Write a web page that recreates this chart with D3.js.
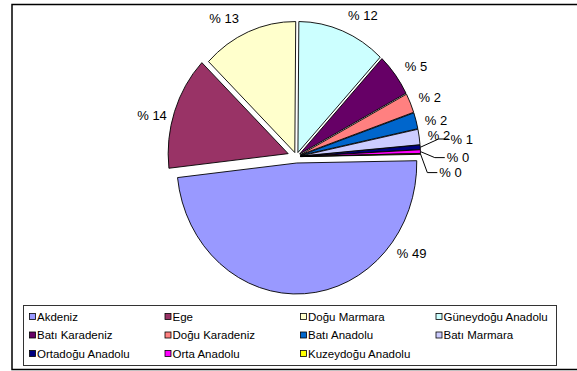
<!DOCTYPE html>
<html>
<head>
<meta charset="utf-8">
<script src="https://cdn.jsdelivr.net/npm/d3@7"></script>
<style>
  html, body { margin: 0; padding: 0; background: #fff; }
  svg { display: block; font-family: "Liberation Sans", Arial, sans-serif; }
</style>
</head>
<body>
<svg id="chart" width="577" height="371"></svg>
<script>
// Regions and their shares (%)
const regions = [
  "Akdeniz", "Ege", "Doğu Marmara", "Güneydoğu Anadolu",
  "Batı Karadeniz", "Doğu Karadeniz", "Batı Anadolu", "Batı Marmara",
  "Ortadoğu Anadolu", "Orta Anadolu", "Kuzeydoğu Anadolu"
];
const shares = [48.5, 14.0, 12.9, 11.9, 5.3, 2.4, 2.0, 1.9, 0.55, 0.45, 0.1];
const colors = [
  "#9999FF", "#993366", "#FFFFCC", "#CCFFFF",
  "#660066", "#FF8080", "#0066CC", "#CCCCFF",
  "#000080", "#FF00FF", "#FFFF00"
];

// Pie layout settings
const cx = 296.4, cy = 156.7;      // pie centre
const R = 131;                       // radius (vertical)
const sx = 0.916;                    // horizontal squash of the pie
const startDeg = 89;                 // first slice angle
const explodeDefault = 4.5;
const explode = { "Akdeniz": 6.3, "Ege": 9.5 };
// where each percentage label sits (angle in degrees clockwise from top, distance from centre)
const labelPlace = {
  "Akdeniz": { angle: 127.7, dist: 159 },
  "Ege": { angle: 284.5, dist: 162.8 },
  "Doğu Marmara": { angle: 330.2, dist: 158.7 },
  "Güneydoğu Anadolu": { angle: 27.3, dist: 158.4 },
  "Batı Karadeniz": { angle: 55.5, dist: 158.4 },
  "Doğu Karadeniz": { angle: 68, dist: 157 },
  "Batı Anadolu": { angle: 76.5, dist: 156.8 },
  "Batı Marmara": { angle: 82.4, dist: 157.1 },
  "Ortadoğu Anadolu": { angle: 84.4, dist: 181.4, leader: true },
  "Orta Anadolu": { angle: 90.3, dist: 176.4, leader: true },
  "Kuzeydoğu Anadolu": { angle: 95.4, dist: 169, leader: true }
};

const svg = d3.select("#chart");

// outer frame
svg.append("rect")
  .attr("x", 12).attr("y", 4.5)
  .attr("width", 580).attr("height", 365)
  .attr("fill", "none").attr("stroke", "#000").attr("stroke-width", 1.5);

const data = regions.map((name, i) => ({ name, value: shares[i], color: colors[i] }));

const pie = d3.pie()
  .value(d => d.value)
  .sort(null)
  .startAngle(startDeg * Math.PI / 180)
  .endAngle((startDeg + 360) * Math.PI / 180);

const arcs = pie(data);
const arc = d3.arc().innerRadius(0).outerRadius(R);

// convert a true-circle polar point to screen coordinates
function polar(angleRad, r) {
  return [Math.sin(angleRad) * r * sx, -Math.cos(angleRad) * r];
}

const g = svg.append("g").attr("transform", `translate(${cx},${cy})`);

arcs.forEach(a => {
  const mid = (a.startAngle + a.endAngle) / 2;
  const e = explode[a.data.name] ?? explodeDefault;
  const [ox, oy] = polar(mid, e);
  a.offset = [ox, oy];
  g.append("g")
    .attr("transform", `translate(${ox},${oy}) scale(${sx},1)`)
    .append("path")
    .attr("d", arc(a))
    .attr("fill", a.data.color)
    .attr("stroke", "#000")
    .attr("stroke-width", 0.9)
    .attr("stroke-linejoin", "round")
    .attr("vector-effect", "non-scaling-stroke");
});

// data labels
const fmt = v => "% " + Math.round(v);
arcs.forEach(a => {
  const mid = (a.startAngle + a.endAngle) / 2;
  const p = labelPlace[a.data.name];
  const [lx, ly] = polar(p.angle * Math.PI / 180, p.dist);
  const t = g.append("text")
    .attr("x", lx).attr("y", ly)
    .attr("text-anchor", "middle")
    .attr("dominant-baseline", "central")
    .attr("font-size", 13)
    .attr("fill", "#000")
    .text(fmt(a.data.value));
  if (p.leader) {
    const w = t.node().getComputedTextLength();
    const left = lx - w / 2;
    const [rx, ry] = polar(mid, R);
    const sxp = rx + a.offset[0], syp = ry + a.offset[1];
    g.append("polyline")
      .attr("points", [[sxp, syp], [left - 12, ly], [left - 2, ly]].map(q => q.join(",")).join(" "))
      .attr("fill", "none")
      .attr("stroke", "#000")
      .attr("stroke-width", 1);
  }
});

// legend
const legendCols = 4;
const legend = svg.append("g");
legend.append("rect")
  .attr("x", 23.5).attr("y", 305.5)
  .attr("width", 533).attr("height", 60)
  .attr("fill", "#fff").attr("stroke", "#333").attr("stroke-width", 1);

const colX = d3.scaleLinear().domain([0, 1]).range([29, 164.5]);
const rowY = d3.scaleLinear().domain([0, 1]).range([316.5, 335]);

data.forEach((d, i) => {
  const c = i % legendCols, r = Math.floor(i / legendCols);
  const x = colX(c), y = rowY(r);
  legend.append("rect")
    .attr("x", x + 0.5).attr("y", y - 3)
    .attr("width", 6).attr("height", 6)
    .attr("fill", d.color).attr("stroke", "#000").attr("stroke-width", 0.8);
  legend.append("text")
    .attr("x", x + 8).attr("y", y)
    .attr("dominant-baseline", "central")
    .attr("font-size", 11.5)
    .attr("fill", "#000")
    .text(d.name);
});
</script>
</body>
</html>
